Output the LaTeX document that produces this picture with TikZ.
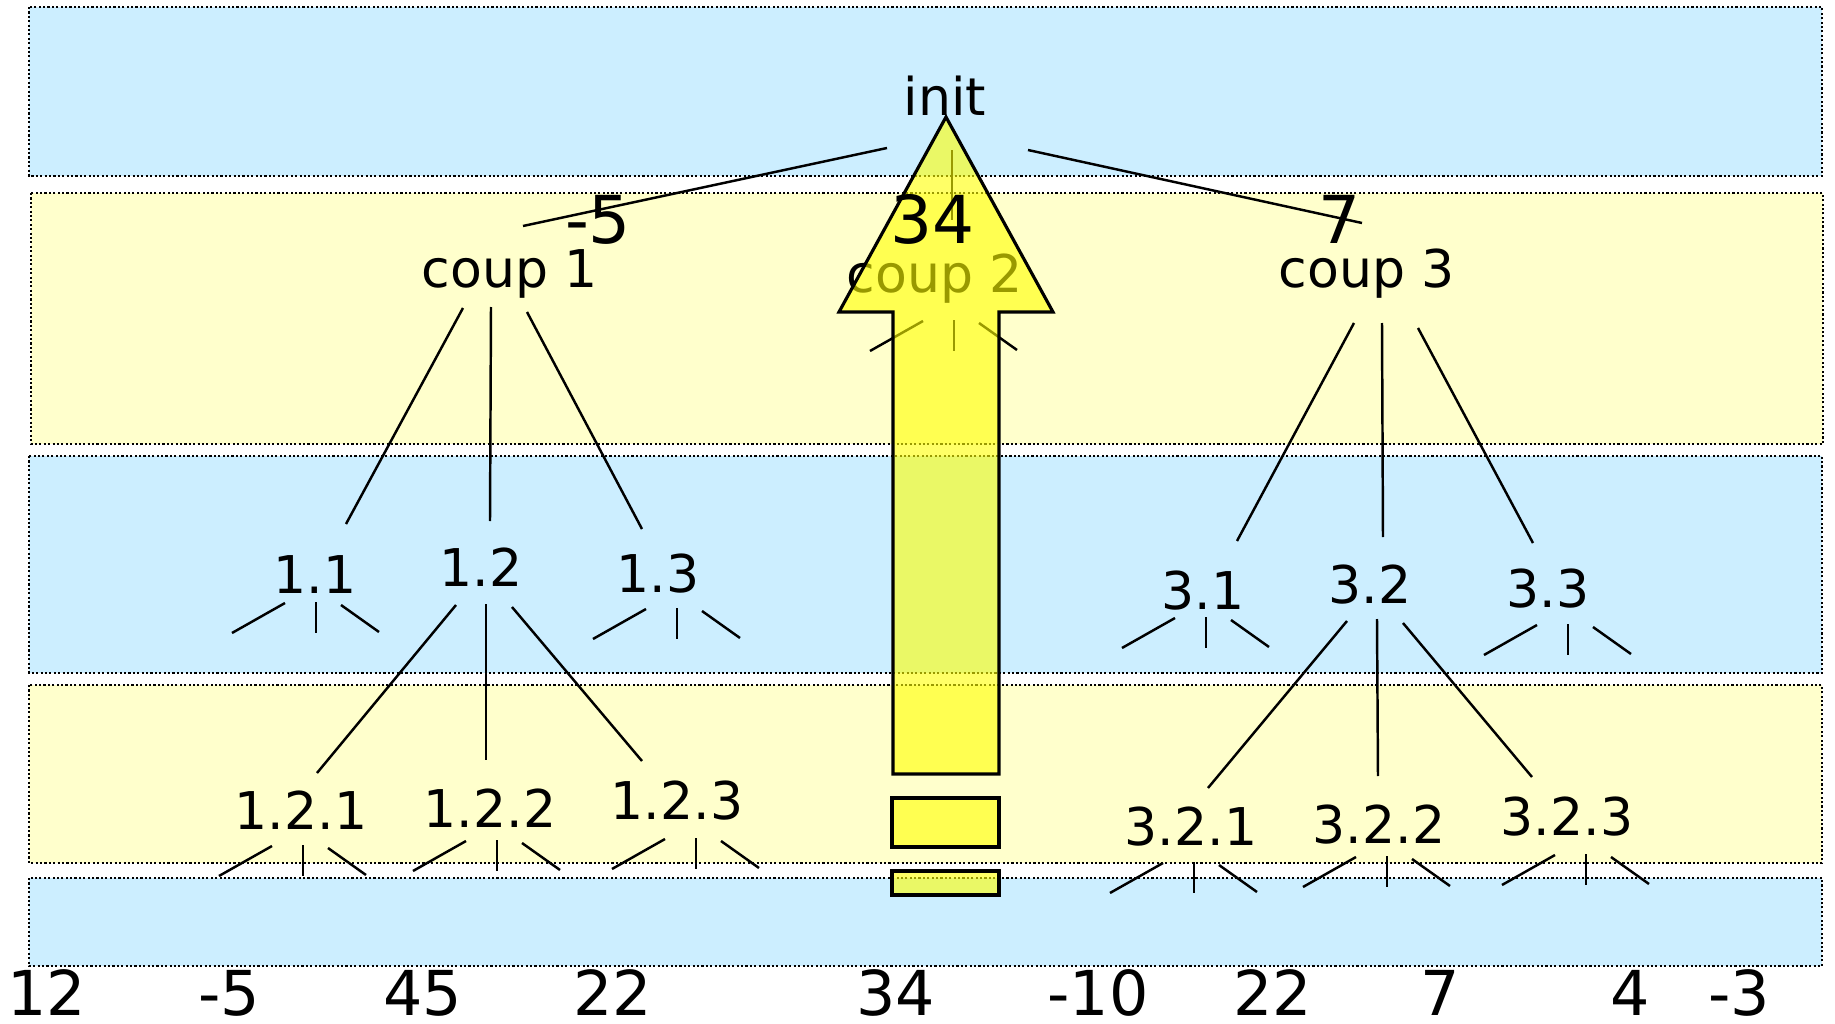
\documentclass[tikz,border=0pt]{standalone}
\usepackage{fontspec}
\setmainfont{DejaVu Sans}
\definecolor{bandblue}{HTML}{CCEEFF}
\definecolor{bandyellow}{HTML}{FFFFCC}
\definecolor{arrowyellow}{HTML}{FFFF00}
\tikzset{
  dottedband/.style={draw=black,line width=0.7pt,dash pattern=on 0.6pt off 0.65pt},
  blueband/.style={dottedband,fill=bandblue},
  yellowband/.style={dottedband,fill=bandyellow},
  movelabel/.style={anchor=base,inner sep=0pt,font=\fontsize{14.8}{17}\selectfont},
  scorelabel/.style={anchor=base,inner sep=0pt,font=\fontsize{18.8}{22}\selectfont},
  leafscore/.style={anchor=base,inner sep=0pt,font=\fontsize{17.6}{21}\selectfont},
  treeline/.style={line width=0.7pt},
  bigarrow/.style={draw=black,line width=0.9pt,fill=arrowyellow,fill opacity=0.6,line join=miter},
  pics/stubs/.style={code={
    \draw[treeline] (-31,1) -- (-84,31);
    \draw[treeline] (0,0) -- (0,31);
    \draw[treeline] (25,3) -- (63,30);
  }}
}
\begin{document}
\begin{tikzpicture}[x=0.01cm,y=-0.01cm]
  \useasboundingbox (0,0) rectangle (1835,1024);
  % one band per level
  \draw[blueband] (29,7) rectangle (1822,176);
  \draw[yellowband] (31,193) rectangle (1823,444);
  \draw[blueband] (29,456) rectangle (1822,673);
  \draw[yellowband] (29,685) rectangle (1822,863);
  \draw[blueband] (29,878) rectangle (1822,966);

  % moves
  \node[movelabel] (init) at (945,115) {init};
  \node[movelabel] (coup1) at (510,287) {coup 1};
  \node[movelabel] (coup2) at (935,292) {coup 2};
  \node[movelabel] (coup3) at (1367,287) {coup 3};
  \node[movelabel] (n11) at (315,593) {1.1};
  \node[movelabel] (n12) at (481,586) {1.2};
  \node[movelabel] (n13) at (658,592) {1.3};
  \node[movelabel] (n31) at (1203,609) {3.1};
  \node[movelabel] (n32) at (1370,603) {3.2};
  \node[movelabel] (n33) at (1548,607) {3.3};
  \node[movelabel] (n121) at (301,829) {1.2.1};
  \node[movelabel] (n122) at (490,827) {1.2.2};
  \node[movelabel] (n123) at (677,819) {1.2.3};
  \node[movelabel] (n321) at (1191,845) {3.2.1};
  \node[movelabel] (n322) at (1379,843) {3.2.2};
  \node[movelabel] (n323) at (1567,835) {3.2.3};

  \draw[treeline] ([shift={(-58,33)}]init.base) -- ([shift={(13,-61)}]coup1.base);
  \draw[treeline] ([shift={(7,35)}]init.base) -- ([shift={(17,-72)}]coup2.base);
  \draw[treeline] ([shift={(83,35)}]init.base) -- ([shift={(-5,-64)}]coup3.base);
  \draw[treeline] ([shift={(-47,21)}]coup1.base) -- ([shift={(31,-69)}]n11.base);
  \draw[treeline] ([shift={(-19,20)}]coup1.base) -- ([shift={(9,-65)}]n12.base);
  \draw[treeline] ([shift={(17,25)}]coup1.base) -- ([shift={(-16,-63)}]n13.base);
  \draw[treeline] ([shift={(-13,36)}]coup3.base) -- ([shift={(34,-68)}]n31.base);
  \draw[treeline] ([shift={(15,36)}]coup3.base) -- ([shift={(13,-66)}]n32.base);
  \draw[treeline] ([shift={(51,41)}]coup3.base) -- ([shift={(-15,-64)}]n33.base);
  \draw[treeline] ([shift={(-25,19)}]n12.base) -- ([shift={(16,-56)}]n121.base);
  \draw[treeline] ([shift={(5,18)}]n12.base) -- ([shift={(-4,-67)}]n122.base);
  \draw[treeline] ([shift={(31,21)}]n12.base) -- ([shift={(-35,-58)}]n123.base);
  \draw[treeline] ([shift={(-23,18)}]n32.base) -- ([shift={(17,-57)}]n321.base);
  \draw[treeline] ([shift={(7,16)}]n32.base) -- ([shift={(-1,-67)}]n322.base);
  \draw[treeline] ([shift={(33,20)}]n32.base) -- ([shift={(-35,-58)}]n323.base);

  % unexplored subtrees
  \pic at ([shift={(19,28)}]coup2.base) {stubs};
  \pic at ([shift={(1,9)}]n11.base) {stubs};
  \pic at ([shift={(19,16)}]n13.base) {stubs};
  \pic at ([shift={(3,8)}]n31.base) {stubs};
  \pic at ([shift={(20,17)}]n33.base) {stubs};
  \pic at ([shift={(2,16)}]n121.base) {stubs};
  \pic at ([shift={(7,13)}]n122.base) {stubs};
  \pic at ([shift={(19,19)}]n123.base) {stubs};
  \pic at ([shift={(3,17)}]n321.base) {stubs};
  \pic at ([shift={(8,13)}]n322.base) {stubs};
  \pic at ([shift={(19,19)}]n323.base) {stubs};

  % value going back up
  \draw[bigarrow] (946,117) -- (1053,312) -- (999,312) -- (999,774)
    -- (893,774) -- (893,312) -- (839,312) -- cycle;
  \draw[bigarrow] (892,798) rectangle (999,847);
  \draw[bigarrow] (892,871) rectangle (999,895);

  \node[scorelabel] (val1) at (598,243) {-5};
  \node[scorelabel] (val2) at (933,243) {34};
  \node[scorelabel] (val3) at (1340,243) {7};

  \foreach \x/\v [count=\i] in {47/12,229/-5,423/45,613/22,896/34,1098/-10,1273/22,1440/7,1630/4,1739/-3}
    \node[leafscore] (leaf\i) at (\x,1015) {\v};
\end{tikzpicture}
\end{document}
